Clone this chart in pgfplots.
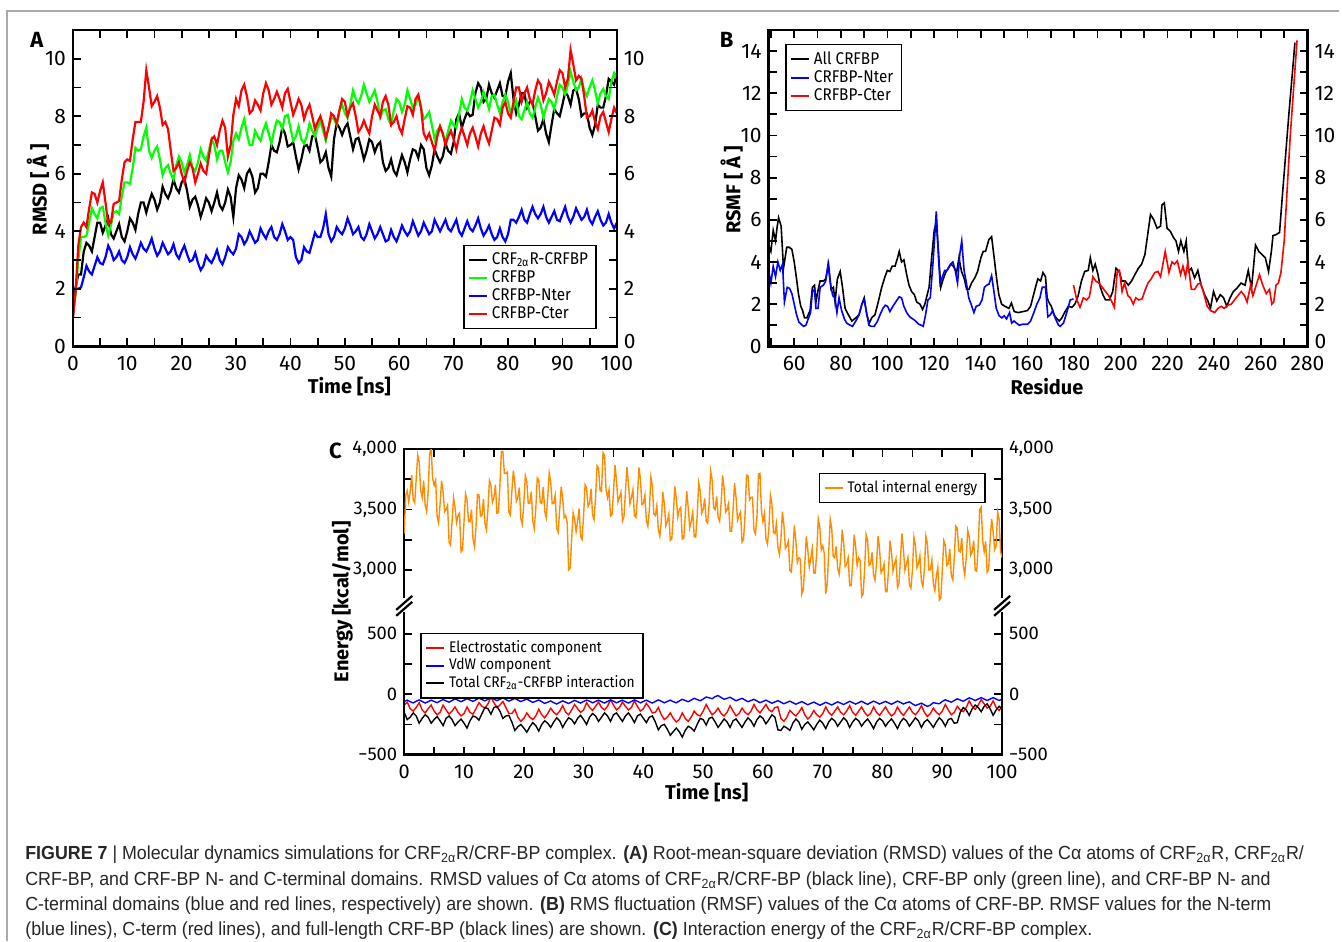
\documentclass[border=0pt]{standalone}
\usepackage{fontspec}
\setmainfont{Fira Sans}
\newfontfamily\legfont[FakeStretch=0.9]{Fira Sans}
\newfontfamily\capfont[FakeStretch=0.94]{Liberation Sans}
\usepackage{pgfplots}
\pgfplotsset{compat=1.18}
\usepackage{pgfplotstable}

\definecolor{pgreen}{RGB}{0,255,0}
\definecolor{pblue}{RGB}{0,0,255}
\definecolor{pred}{RGB}{255,0,0}
\definecolor{porange}{RGB}{255,140,0}
\definecolor{framegray}{RGB}{170,170,170}

% panel A: RMSD vs time (t, complex, CRFBP, Nter, Cter)
\pgfplotstableread{
t k g b r
0 1.0 1.2 1.5 1.0
0.5 2.05 1.8 2.0 1.9
1 2.5 3.0 2.0 3.5
1.5 2.5 3.8 2.05 4.15
2 3.3 3.8 2.4 4.3
2.5 3.6 3.85 2.8 4.15
3 3.5 4.3 2.6 4.8
3.5 3.3 4.8 2.5 5.35
4 3.8 4.6 2.8 5.3
4.5 4.3 4.45 3.1 5.0
5 4.3 4.8 2.9 5.4
5.5 3.95 4.85 2.85 5.7
6 4.2 4.3 3.1 5.0
6.5 4.45 3.85 3.5 4.25
7 3.9 4.2 3.3 4.3
7.5 3.75 4.65 3.0 4.95
8 4.0 4.7 3.1 5.0
8.5 4.25 4.6 3.3 5.05
9 3.8 5.2 3.0 5.8
9.5 3.65 5.7 2.9 6.4
10 4.0 5.7 3.1 6.5
10.5 4.45 5.65 3.45 6.45
11 4.3 6.2 3.2 7.2
11.5 4.05 6.9 3.05 7.8
12 4.6 6.8 3.3 7.8
12.5 5.0 6.85 3.6 7.8
13 5.0 7.3 3.4 8.5
13.5 4.65 7.6 3.3 9.6
14 5.0 6.8 3.5 9.0
14.5 5.3 6.55 3.75 8.35
15 5.1 6.8 3.4 8.5
15.5 4.75 6.95 3.15 8.7
16 5.0 6.5 3.3 8.3
16.5 5.55 5.95 3.6 7.7
17 5.3 6.2 3.4 7.8
17.5 5.15 6.3 3.2 7.55
18 5.4 6.0 3.3 6.8
18.5 5.8 5.8 3.55 6.1
19 5.5 6.3 3.2 6.2
19.5 5.35 6.6 3.05 6.4
20 5.7 6.4 3.3 6.0
20.5 5.85 6.05 3.5 5.7
21 5.4 6.3 3.2 6.1
21.5 4.85 6.65 2.95 6.4
22 5.1 6.2 3.0 6.2
22.5 5.2 6.1 3.25 5.7
23 4.9 6.4 2.9 6.0
23.5 4.5 6.85 2.65 6.35
24 4.8 6.6 2.8 6.1
24.5 5.15 6.45 3.15 6.0
25 5.0 6.8 3.0 6.6
25.5 4.7 7.2 2.9 7.2
26 5.0 7.0 3.1 7.3
26.5 5.35 6.5 3.35 7.0
27 4.9 6.8 3.0 7.5
27.5 4.75 6.8 2.85 7.85
28 5.0 6.4 3.1 7.6
28.5 5.45 6.05 3.45 6.6
29 5.2 6.4 3.3 7.0
29.5 4.5 7.15 3.2 8.05
30 5.5 7.4 3.4 8.6
30.5 5.95 7.2 3.9 8.35
31 5.8 7.6 3.8 8.9
31.5 5.5 7.9 3.55 9.1
32 6.0 7.4 3.7 8.7
32.5 6.15 7.0 4.0 8.1
33 5.9 7.0 3.8 8.2
33.5 5.35 7.5 3.6 8.55
34 5.5 7.3 3.7 8.4
34.5 6.0 7.15 4.1 8.2
35 6.0 7.5 3.9 8.8
35.5 5.9 7.75 3.75 9.15
36 6.4 7.4 4.0 8.9
36.5 7.0 7.05 4.15 8.4
37 6.8 7.5 3.8 8.6
37.5 6.75 7.85 3.7 8.85
38 7.1 7.8 3.9 8.6
38.5 7.6 7.55 4.25 8.3
39 7.4 8.0 4.0 8.8
39.5 6.95 8.05 3.7 8.95
40 7.0 7.6 3.8 8.5
40.5 7.1 7.15 3.7 8.05
41 6.6 7.3 3.1 8.3
41.5 6.15 7.65 2.9 8.6
42 6.5 7.2 3.0 8.4
42.5 6.95 7.05 3.45 7.9
43 7.0 7.3 3.3 8.2
43.5 6.8 7.75 3.25 8.4
44 7.3 7.5 3.6 8.0
44.5 7.35 7.3 3.95 7.55
45 6.9 7.6 3.8 7.8
45.5 6.4 7.85 3.8 8.0
46 6.5 7.5 4.1 7.7
46.5 6.75 7.15 4.6 7.25
47 6.2 7.6 3.9 7.6
47.5 5.9 7.95 3.65 8.1
48 7.2 7.9 3.8 8.0
48.5 7.75 7.7 4.15 7.75
49 7.6 8.2 4.0 8.2
49.5 7.35 8.4 3.9 8.6
50 7.6 8.1 4.1 8.5
50.5 7.75 7.95 4.45 8.0
51 7.3 8.4 4.2 8.3
51.5 6.85 8.9 3.9 8.45
52 7.2 8.6 4.0 8.0
52.5 7.25 8.45 4.15 7.45
53 6.9 8.7 3.8 7.6
53.5 6.5 9.1 3.7 7.85
54 6.8 8.8 3.9 7.6
54.5 7.2 8.5 4.25 7.4
55 7.1 8.7 4.0 8.0
55.5 6.75 8.9 3.75 8.4
56 7.0 8.5 3.9 8.2
56.5 7.1 7.95 4.15 8.0
57 6.4 8.2 3.9 8.5
57.5 6.1 8.25 3.65 8.7
58 6.2 7.9 3.7 8.4
58.5 6.5 7.7 4.05 7.7
59 6.1 8.2 3.8 7.8
59.5 5.95 8.6 3.65 8.0
60 6.3 8.5 3.9 7.6
60.5 6.65 8.15 4.2 7.4
61 6.4 8.4 4.0 7.9
61.5 6.05 8.9 3.85 8.35
62 6.5 8.6 4.0 8.3
62.5 6.85 8.3 4.35 8.05
63 6.8 8.4 4.1 8.6
63.5 6.55 8.7 3.85 8.75
64 7.0 8.3 4.0 8.3
64.5 6.85 7.9 4.3 7.4
65 6.2 8.0 4.1 7.2
65.5 5.95 8.15 3.9 7.4
66 6.3 7.7 4.0 7.1
66.5 6.85 7.2 4.4 6.8
67 6.6 7.5 4.2 7.3
67.5 6.4 7.65 4.0 7.65
68 6.6 7.4 4.2 7.4
68.5 7.05 7.1 4.4 7.0
69 6.8 7.5 4.1 7.3
69.5 6.7 7.85 4.0 7.5
70 7.1 7.7 4.2 7.2
70.5 7.9 7.6 4.4 6.85
71 8.1 8.1 4.0 7.3
71.5 7.6 8.6 3.85 7.6
72 7.9 8.3 4.1 7.3
72.5 8.15 8.2 4.35 7.0
73 8.0 8.5 4.1 7.4
73.5 8.05 8.9 4.0 7.6
74 8.8 8.6 4.2 7.3
74.5 9.15 8.3 4.45 6.95
75 9.0 8.5 4.1 7.4
75.5 8.5 8.85 3.85 7.65
76 8.6 8.6 4.0 7.3
76.5 9.1 8.25 4.2 7.05
77 8.8 8.7 3.9 7.5
77.5 8.65 8.75 3.7 7.95
78 8.9 8.4 3.8 7.9
78.5 9.15 8.1 4.1 7.7
79 8.7 8.5 3.8 8.3
79.5 8.7 8.75 3.65 8.5
80 9.2 8.5 3.9 8.1
80.5 9.5 8.1 4.4 7.95
81 8.6 8.3 4.4 8.5
81.5 8.1 8.55 4.3 9.0
82 8.4 8.0 4.5 9.0
82.5 8.8 7.9 4.75 8.5
83 8.8 8.2 4.4 8.8
83.5 8.3 8.5 4.3 9.0
84 8.5 8.1 4.6 8.6
84.5 8.5 7.95 4.85 8.4
85 8.0 8.3 4.6 8.9
85.5 7.5 8.65 4.45 9.25
86 7.6 8.4 4.6 9.1
86.5 7.9 7.95 4.85 8.55
87 7.4 8.3 4.5 8.8
87.5 7.1 8.6 4.3 9.2
88 7.7 8.5 4.5 9.0
88.5 8.25 8.25 4.7 8.75
89 8.1 8.7 4.4 9.2
89.5 8.0 9.1 4.35 9.6
90 8.4 9.0 4.6 9.5
90.5 8.85 8.75 4.85 9.0
91 8.7 9.1 4.5 9.3
91.5 8.4 9.55 4.3 10.3
92 8.9 9.2 4.5 9.8
92.5 8.95 8.9 4.8 9.25
93 8.6 9.0 4.6 9.4
93.5 8.0 9.3 4.4 9.3
94 8.1 8.9 4.5 8.7
94.5 8.1 8.7 4.75 7.95
95 7.6 9.0 4.4 8.0
95.5 7.35 9.25 4.25 8.2
96 7.7 8.9 4.5 7.8
96.5 8.4 8.45 4.7 7.55
97 8.3 8.8 4.4 8.0
97.5 8.3 8.95 4.2 8.15
98 8.7 8.7 4.3 7.8
98.5 9.3 8.6 4.6 7.45
99 9.2 9.2 4.3 7.9
99.5 9.1 9.5 4.1 8.3
100 9.5 9.3 4.3 8.1
}\tabA

% panel C lower part: interaction energies (t, electrostatic, vdW, total)
\pgfplotstableread{
t r b k
0 -90 -60 -150
0.5 -65 -49 -210
1 -120 -62 -190
1.5 -140 -72 -155
2 -110 -58 -180
2.5 -70 -47 -240
3 -130 -60 -200
3.5 -155 -73 -170
4 -120 -62 -190
4.5 -90 -49 -240
5 -140 -60 -210
5.5 -170 -70 -185
6 -150 -56 -220
6.5 -90 -44 -260
7 -130 -55 -200
7.5 -165 -66 -180
8 -140 -52 -210
8.5 -105 -39 -260
9 -150 -50 -230
9.5 -180 -62 -205
10 -160 -50 -240
10.5 -105 -37 -280
11 -150 -48 -220
11.5 -165 -59 -180
12 -120 -46 -190
12.5 -70 -33 -215
13 -100 -44 -160
13.5 -115 -55 -110
14 -80 -42 -120
14.5 -25 -29 -165
15 -70 -40 -110
15.5 -110 -53 -100
16 -90 -42 -140
16.5 -60 -31 -200
17 -110 -44 -180
17.5 -160 -57 -175
18 -160 -46 -230
18.5 -125 -35 -300
19 -190 -48 -270
19.5 -225 -61 -250
20 -200 -50 -280
20.5 -155 -40 -315
21 -190 -54 -270
21.5 -210 -68 -235
22 -180 -58 -260
22.5 -125 -48 -305
23 -170 -62 -250
23.5 -195 -76 -220
24 -160 -66 -240
24.5 -115 -56 -275
25 -150 -70 -230
25.5 -170 -81 -195
26 -140 -68 -220
26.5 -95 -55 -275
27 -150 -66 -230
27.5 -170 -77 -195
28 -130 -64 -210
28.5 -85 -51 -245
29 -120 -62 -200
29.5 -150 -73 -175
30 -130 -60 -210
30.5 -70 -48 -250
31 -110 -58 -190
31.5 -135 -71 -160
32 -100 -60 -180
32.5 -65 -49 -225
33 -110 -62 -190
33.5 -130 -73 -155
34 -100 -60 -180
34.5 -45 -47 -225
35 -90 -58 -170
35.5 -130 -71 -155
36 -110 -60 -190
36.5 -65 -49 -225
37 -100 -62 -180
37.5 -130 -73 -155
38 -110 -60 -190
38.5 -55 -47 -235
39 -100 -58 -180
39.5 -140 -71 -165
40 -120 -60 -200
40.5 -75 -49 -235
41 -110 -62 -190
41.5 -155 -73 -180
42 -150 -60 -230
42.5 -110 -47 -295
43 -170 -58 -260
43.5 -210 -71 -250
44 -190 -60 -290
44.5 -155 -49 -340
45 -200 -62 -310
45.5 -230 -71 -280
46 -210 -56 -310
46.5 -155 -42 -355
47 -200 -52 -300
47.5 -225 -62 -265
48 -190 -48 -280
48.5 -140 -34 -305
49 -170 -44 -250
49.5 -180 -54 -200
50 -140 -40 -210
50.5 -85 -23 -255
51 -130 -30 -200
51.5 -170 -37 -190
52 -150 -20 -230
52.5 -115 -11 -275
53 -160 -27 -240
53.5 -180 -42 -205
54 -150 -34 -230
54.5 -95 -25 -275
55 -140 -40 -220
55.5 -180 -54 -205
56 -160 -44 -240
56.5 -115 -34 -275
57 -150 -48 -230
57.5 -170 -62 -195
58 -140 -52 -220
58.5 -85 -42 -265
59 -130 -56 -210
59.5 -155 -70 -180
60 -120 -60 -200
60.5 -85 -49 -245
61 -130 -62 -210
61.5 -145 -75 -170
62 -110 -64 -190
62.5 -105 -53 -295
63 -200 -66 -300
63.5 -225 -79 -265
64 -190 -68 -280
64.5 -135 -57 -300
65 -160 -70 -240
65.5 -180 -83 -205
66 -150 -72 -230
66.5 -110 -61 -290
67 -170 -74 -250
67.5 -205 -87 -230
68 -180 -76 -260
68.5 -135 -65 -295
69 -170 -78 -250
69.5 -190 -91 -215
70 -160 -80 -240
70.5 -105 -67 -285
71 -150 -78 -230
71.5 -175 -89 -200
72 -140 -76 -220
72.5 -105 -63 -265
73 -150 -74 -230
73.5 -170 -85 -195
74 -140 -72 -220
74.5 -95 -59 -275
75 -150 -70 -230
75.5 -175 -82 -200
76 -140 -70 -220
76.5 -105 -58 -265
77 -150 -72 -230
77.5 -180 -84 -205
78 -160 -70 -240
78.5 -105 -57 -285
79 -150 -68 -230
79.5 -175 -81 -200
80 -140 -70 -220
80.5 -105 -59 -265
81 -150 -72 -230
81.5 -180 -83 -205
82 -160 -70 -240
82.5 -105 -57 -285
83 -150 -68 -230
83.5 -175 -81 -200
84 -140 -70 -220
84.5 -105 -63 -265
85 -150 -80 -230
85.5 -170 -94 -195
86 -140 -84 -220
86.5 -95 -74 -275
87 -150 -88 -230
87.5 -185 -101 -210
88 -160 -90 -240
88.5 -115 -70 -275
89 -150 -75 -230
89.5 -170 -79 -195
90 -140 -60 -220
90.5 -85 -46 -265
91 -130 -56 -210
91.5 -170 -66 -200
92 -150 -52 -240
92.5 -100 -38 -235
93 -130 -48 -150
93.5 -145 -58 -110
94 -110 -44 -130
94.5 -55 -30 -175
95 -100 -40 -120
95.5 -125 -52 -90
96 -90 -40 -110
96.5 -45 -28 -145
97 -80 -40 -100
97.5 -115 -52 -80
98 -100 -40 -120
98.5 -55 -28 -175
99 -110 -40 -130
99.5 -135 -52 -100
100 -100 -40 -120
}\tabC

% panel C upper part: total internal energy (kcal/mol)
\pgfplotstableread{
t o
0 3300
0.25 3618
0.5 3655
0.75 3562
1 3650
1.25 3785
1.5 3580
1.75 3555
2 3750
2.25 3950
2.5 3895
2.75 3658
3 3600
3.25 3738
3.5 3535
3.75 3482
4 3650
4.25 3965
4.5 4000
4.75 3760
5 3700
5.25 3742
5.5 3445
5.75 3388
6 3550
6.25 3738
6.5 3645
6.75 3482
7 3500
7.25 3535
7.5 3230
7.75 3205
8 3400
8.25 3598
8.5 3515
8.75 3392
9 3450
9.25 3470
9.5 3150
9.75 3165
10 3400
10.25 3630
10.5 3580
10.75 3400
11 3400
11.25 3498
11.5 3255
11.75 3192
12 3350
12.25 3625
12.5 3620
12.75 3445
13 3450
13.25 3588
13.5 3385
13.75 3332
14 3500
14.25 3740
14.5 3700
14.75 3560
15 3600
15.25 3705
15.5 3470
15.75 3475
16 3700
16.25 3980
16.5 3980
16.75 3800
17 3800
17.25 3810
17.5 3480
17.75 3455
18 3650
18.25 3822
18.5 3715
18.75 3568
19 3600
19.25 3682
19.5 3425
19.75 3378
20 3550
20.25 3780
20.5 3730
20.75 3550
21 3550
21.25 3648
21.5 3405
21.75 3342
22 3500
22.25 3762
22.5 3745
22.75 3558
23 3550
23.25 3688
23.5 3485
23.75 3432
24 3600
24.25 3802
24.5 3725
24.75 3548
25 3550
25.25 3618
25.5 3345
25.75 3312
26 3500
26.25 3688
26.5 3595
26.75 3432
27 3450
27.25 3395
27.5 3000
27.75 3015
28 3250
28.25 3472
28.5 3415
28.75 3318
29 3400
29.25 3508
29.5 3275
29.75 3252
30 3450
30.25 3705
30.5 3680
30.75 3525
31 3550
31.25 3672
31.5 3455
31.75 3418
32 3600
32.25 3862
32.5 3845
32.75 3658
33 3650
33.25 3970
33.5 3950
33.75 3665
34 3600
34.25 3662
34.5 3445
34.75 3458
35 3650
35.25 3868
35.5 3745
35.75 3562
36 3600
36.25 3642
36.5 3405
36.75 3438
37 3650
37.25 3852
37.5 3715
37.75 3548
38 3600
38.25 3665
38.5 3450
38.75 3435
39 3600
39.25 3848
39.5 3755
39.75 3542
40 3550
40.25 3618
40.5 3405
40.75 3362
41 3500
41.25 3768
41.5 3695
41.75 3462
42 3450
42.25 3532
42.5 3335
42.75 3278
43 3400
43.25 3645
43.5 3550
43.75 3365
44 3400
44.25 3462
44.5 3245
44.75 3258
45 3450
45.25 3692
45.5 3595
45.75 3438
46 3500
46.25 3518
46.5 3255
46.75 3262
47 3450
47.25 3652
47.5 3515
47.75 3348
48 3400
48.25 3478
48.5 3275
48.75 3272
49 3450
49.25 3722
49.5 3655
49.75 3468
50 3500
50.25 3592
50.5 3405
50.75 3388
51 3550
51.25 3818
51.5 3745
51.75 3512
52 3500
52.25 3608
52.5 3435
52.75 3402
53 3550
53.25 3782
53.5 3675
53.75 3478
54 3500
54.25 3550
54.5 3320
54.75 3320
55 3500
55.25 3718
55.5 3595
55.75 3412
56 3450
56.25 3480
56.5 3230
56.75 3250
57 3450
57.25 3785
57.5 3780
57.75 3580
58 3600
58.25 3602
58.5 3325
58.75 3298
59 3450
59.25 3795
59.5 3800
59.75 3490
60 3400
60.25 3468
60.5 3255
60.75 3212
61 3350
61.25 3618
61.5 3545
61.75 3312
62 3300
62.25 3382
62.5 3185
62.75 3128
63 3250
63.25 3482
63.5 3375
63.75 3178
64 3200
64.25 3238
64.5 2995
64.75 2982
65 3150
65.25 3368
65.5 3245
65.75 3062
66 3100
66.25 3090
66.5 2800
66.75 2835
67 3050
67.25 3278
67.5 3165
67.75 3022
68 3100
68.25 3178
68.5 2975
68.75 2972
69 3150
69.25 3422
69.5 3355
69.75 3168
70 3200
70.25 3140
70.5 2800
70.75 2885
71 3150
71.25 3418
71.5 3345
71.75 3112
72 3100
72.25 3195
72.5 3010
72.75 2965
73 3100
73.25 3332
73.5 3225
73.75 3028
74 3050
74.25 3100
74.5 2870
74.75 2870
75 3050
75.25 3292
75.5 3195
75.75 3038
76 3100
76.25 3080
76.5 2780
76.75 2800
77 3000
77.25 3292
77.5 3245
77.75 3038
78 3050
78.25 3145
78.5 2960
78.75 2915
79 3050
79.25 3282
79.5 3175
79.75 2978
80 3000
80.25 3050
80.5 2820
80.75 2820
81 3000
81.25 3242
81.5 3145
81.75 2988
82 3050
82.25 3092
82.5 2855
82.75 2888
83 3100
83.25 3302
83.5 3165
83.75 2998
84 3050
84.25 3102
84.5 2875
84.75 2848
85 3000
85.25 3272
85.5 3205
85.75 3018
86 3050
86.25 3118
86.5 2905
86.75 2862
87 3000
87.25 3280
87.5 3220
87.75 3000
88 3000
88.25 3082
88.5 2885
88.75 2828
89 2950
89.25 3020
89.5 2750
89.75 2765
90 3000
90.25 3242
90.5 3205
90.75 3038
91 3050
91.25 3172
91.5 2955
91.75 2918
92 3100
92.25 3362
92.5 3345
92.75 3158
93 3150
93.25 3262
93.5 3035
93.75 2958
94 3100
94.25 3328
94.5 3275
94.75 3122
95 3150
95.25 3242
95.5 2995
95.75 2988
96 3200
96.25 3500
96.5 3520
96.75 3245
97 3150
97.25 3235
97.5 2980
97.75 3005
98 3250
98.25 3422
98.5 3315
98.75 3168
99 3200
99.25 3480
99.5 3420
99.75 3150
100 3100
}\tabO

\pgfplotsset{
  panel/.style={
    scale only axis, anchor=south west, clip=true,
    axis line style={line width=1.2pt},
    tick style={black, line width=0.9pt},
    major tick length=4pt, minor tick length=4pt,
    tick align=inside,
    tick label style={font=\fontsize{10.5}{12}\selectfont},
    xticklabel style={yshift=-1.5pt},
    /pgf/number format/assume math mode=true,
    legend cell align=left,
    legend style={draw=black, line width=0.75pt, fill=white,
      font=\legfont\fontsize{8.5}{8.5}\selectfont, inner xsep=2pt, inner ysep=1.5pt, row sep=-2.4pt},
    legend image code/.code={\draw[#1, line width=1pt] (0pt,0pt) -- (9pt,0pt);},
  },
  rightside/.style={yticklabel pos=right, xticklabels={}},
  % the right-hand "0" sits just above the last x tick label; lift it a little
  zeroright/.style={extra y ticks={0}, extra y tick style={yticklabel style={yshift=2.5pt}}},
  panelC/.style={panel, at={(202.5pt,-378pt)}, width=299.5pt, height=153pt,
    xmin=0, xmax=100, ymin=-500, ymax=2030,
    xticklabel style={font=\fontsize{10}{12}\selectfont},
    yticklabel style={font=\fontsize{9.2}{11}\selectfont},
    xtick={0,10,...,100}, minor xtick={5,15,...,95},
    ytick={-500,-250,0,250,500,1030,1280,1530,1780,2030},
    yticklabels={−500,,0,,500,{3,000},,{3,500},,{4,000}},
    legend style={font=\legfont\fontsize{7.7}{7.7}\selectfont, row sep=-2.5pt}},
}

\begin{document}
\begin{tikzpicture}
\begin{scope}[x=0.5pt, y=-0.5pt]
  \path[use as bounding box] (0,0) rectangle (1342,943);
  \draw[framegray, line width=0.8pt] (7,943) -- (7,11) -- (1342,11);
\end{scope}

% ---------- A ----------
\begin{axis}[panel, at={(36.5pt,-173.5pt)}, width=272.5pt, height=158.5pt,
  xmin=0, xmax=100, ymin=0, ymax=11,
  xtick={0,10,...,100}, minor xtick={5,15,...,95},
  ytick={0,2,...,10}, minor ytick={1,3,...,11},
  legend style={at={(0.963,0.054)}, anchor=south east}]
\addplot[black, line width=1.1pt] table[x=t, y=k] {\tabA};
\addplot[pgreen, line width=1.1pt] table[x=t, y=g] {\tabA};
\addplot[pblue, line width=1.1pt] table[x=t, y=b] {\tabA};
\addplot[pred, line width=1.1pt] table[x=t, y=r] {\tabA};
\legend{CRF\textsubscript{2α}R-CRFBP, CRFBP, CRFBP-Nter, CRFBP-Cter}
\end{axis}
\begin{axis}[panel, rightside, zeroright, at={(36.5pt,-173.5pt)}, width=272.5pt, height=158.5pt,
  xmin=0, xmax=100, ymin=0, ymax=11,
  xtick={0,10,...,100}, minor xtick={5,15,...,95},
  ytick={2,4,...,10}, minor ytick={1,3,...,11}]
\end{axis}

% ---------- B ----------
\begin{axis}[panel, at={(385pt,-173.5pt)}, width=270pt, height=158.5pt,
  xmin=49, xmax=280, ymin=0, ymax=15,
  xtick={60,80,...,280}, minor xtick={50,70,...,270},
  ytick={0,2,...,14}, minor ytick={1,3,...,15},
  legend style={at={(0.031,0.956)}, anchor=north west}]
\addplot[black, line width=0.8pt] coordinates {
(49,4.8)(50,4.5)(51,5.5)(52,5.0)(52.6,5.6)(53.3,6.1)(54.4,5.7)(55.4,3.7)(56.8,4.7)(57.8,4.7)
(59,4.6)(60,4.0)(61,3.2)(61.8,2.5)(62.8,1.9)(63.6,1.7)(64.4,1.35)(65.4,1.35)(66.8,1.7)(67.8,2.8)
(68.7,2.9)(69.3,2.1)(70.1,2.6)(71.1,3.1)(72.5,3.1)(73.5,3.2)(74.7,3.9)(75.8,2.7)(76.8,2.8)(77.5,2.1)
(78.5,3.2)(79.7,3.55)(80.7,2.8)(81.8,1.8)(83.2,1.5)(84.7,1.2)(86.4,1.35)(87.8,1.5)(89,2.0)(90,2.3)
(91.1,1.5)(92.2,1.1)(93.2,1.35)(94.6,1.5)(96,2.1)(97.5,2.8)(98.9,3.3)(99.9,3.6)(101,3.55)(102,3.8)
(103.2,3.8)(104.3,4.2)(105,4.5)(106,4.0)(107,4.1)(108.2,3.4)(109.2,2.9)(110.3,2.6)(111.5,2.45)(112.5,2.1)
(113.9,2.0)(115,1.75)(116,2.0)(117,2.45)(117.8,2.8)(118.9,4.2)(120,5.5)(120.9,5.9)(121.8,4.5)(122.8,2.8)
(123.9,3.2)(124.9,3.5)(126,3.7)(127.2,3.9)(128.2,3.8)(129.6,3.5)(130.6,4.2)(131.7,3.55)(132.9,3.2)(133.9,2.7)
(134.9,2.7)(136,3.0)(137.4,3.25)(138.6,3.55)(140,4.2)(141,4.5)(142,4.5)(143.4,5.05)(144.6,5.2)(145.7,4.2)
(146.7,3.25)(147.7,2.45)(148.9,2.0)(150.3,1.9)(152,1.8)(153.1,2.05)(154.3,1.65)(156,1.6)(158.1,1.65)(160,1.7)
(161.3,1.9)(163.4,2.8)(164.4,3.2)(165.6,3.1)(166.6,3.5)(167.7,3.3)(168.4,2.3)(169.1,2.1)(170.2,1.9)(171.3,1.5)
(172.3,1.35)(173.6,1.2)(174.7,1.35)(176.1,1.65)(177.5,1.9)(179,1.85)(180.3,2.0)(181.7,2.4)(183.1,3.1)(184.5,3.55)
(186,3.6)(186.9,4.2)(188,3.6)(189,3.9)(190.2,3.4)(191.2,2.8)(192.3,2.45)(193.4,2.2)(195.1,2.2)(196.5,2.6)
(197.9,3.7)(199.3,3.55)(200.4,3.1)(201.8,3.1)(203.2,2.9)(204.6,3.1)(206,3.4)(207.5,3.7)(208.9,3.9)(210.3,4.35)
(211.3,5.15)(212.7,6.25)(214.1,6.0)(215.5,5.6)(217,5.7)(217.6,6.7)(218.6,6.8)(219.8,5.6)(221.2,5.45)(222.6,5.15)
(223.6,5.0)(224.7,4.5)(225.7,5.0)(227,4.5)(228,5.0)(229,3.55)(230.2,3.7)(231.6,3.25)(233,3.6)(234.4,2.9)
(235.9,2.45)(237.3,2.15)(238.4,1.8)(239.7,2.6)(241.1,2.15)(242.6,2.45)(244,2.3)(245.4,1.9)(246.8,2.3)(248.2,2.6)
(249.7,2.75)(251.5,3.0)(253.2,2.9)(254.6,3.6)(256,2.75)(257.7,4.8)(259.1,4.5)(260.5,4.35)(261.9,4.2)(263.3,3.55)
(264.5,4.5)(265.2,5.25)(266.6,5.3)(268,5.4)(269.4,7.4)(272,11.0)(274.6,14.4)
};
\addplot[pblue, line width=0.8pt] coordinates {
(49,3.6)(50,3.0)(51,3.8)(52,3.3)(53,4.0)(54,3.6)(55,3.9)(55.8,2.1)(57,2.8)(58,2.75)
(59,2.5)(60,2.0)(61,1.5)(62,1.15)(63,1.05)(64,0.95)(65,1.0)(66,1.3)(67,1.6)(67.8,2.6)
(68.7,2.7)(69.3,1.8)(70.2,1.8)(71.1,2.8)(72.5,2.9)(73.5,3.1)(74.5,3.9)(75.5,3.0)(76.5,2.4)(77.5,2.3)
(78.3,1.6)(79.2,2.3)(80.3,1.7)(81.5,1.3)(82.5,1.1)(84,1.0)(85,0.95)(86.4,1.2)(87.8,1.5)(89,2.0)
(90,2.2)(91,1.6)(92,1.0)(93,0.95)(94.3,0.95)(95.5,1.15)(96.8,1.5)(98,1.8)(99,1.95)(100,1.9)
(101,1.65)(102.3,1.9)(103.5,2.1)(105,2.35)(106,2.3)(107,1.9)(108.2,1.6)(109.5,1.4)(110.8,1.3)(112,1.2)
(113.3,1.05)(114.5,1.0)(115.3,0.95)(116.3,1.5)(117.3,2.2)(118.3,2.3)(119.5,4.0)(120.9,6.4)(121.8,4.3)(122.5,3.0)
(123.5,3.3)(124.5,3.6)(125.5,3.6)(127,3.9)(128,4.0)(129,3.6)(130,3.0)(131,4.4)(131.8,5.0)(132.8,3.6)
(133.8,3.0)(134.8,2.3)(135.8,2.0)(137,1.6)(138,1.9)(139.3,1.95)(140.5,2.2)(141.5,2.8)(142.5,2.9)(143.5,2.95)
(144.6,3.35)(145.6,2.6)(146.6,1.8)(147.8,1.45)(149,1.35)(150,1.45)(151,1.3)(152.3,1.6)(153.2,1.1)(154.2,1.2)
(155.3,1.1)(156.5,1.0)(158,1.05)(160,1.05)(161.3,1.2)(162.7,1.6)(164,2.0)(165.3,2.3)(166.3,2.8)(167.7,2.8)
(168.7,1.4)(169.8,1.5)(170.8,1.7)(172,1.3)(173.3,1.0)(174,0.95)(175.4,1.1)(176.8,1.6)(178.3,2.2)(179.7,2.25)
};
\addplot[pred, line width=0.8pt] coordinates {
(179.7,2.9)(181.1,2.2)(182.5,1.85)(183.9,2.3)(185.3,2.2)(186.5,2.35)(188,3.3)(189.2,3.1)(190.6,3.0)(192,2.8)
(193.4,2.6)(194.8,2.4)(196.2,2.1)(197.2,1.85)(198.4,3.5)(199.4,3.6)(200.5,2.6)(201.6,3.0)(203,2.4)(204.1,2.3)
(205.3,2.0)(206.4,2.3)(207.7,2.2)(209.1,2.25)(210.5,2.7)(211.6,3.0)(213,3.2)(214.5,3.5)(215.9,3.55)(217,3.3)
(219,4.5)(220.6,3.5)(221.9,4.0)(223,3.9)(224.2,4.05)(225.6,3.4)(226.6,3.8)(227.7,3.3)(228.7,4.0)(230.2,2.7)
(231.6,2.7)(233,2.95)(234.2,3.0)(235.3,2.6)(237,1.9)(238.4,1.7)(240.2,1.6)(241.6,1.8)(243,1.9)(244.2,1.8)
(245.9,1.95)(247.3,2.0)(249.4,2.3)(251.6,2.6)(253,2.4)(254.1,2.1)(255.6,2.9)(256.6,2.4)(258,2.9)(259.4,3.4)
(260.8,2.9)(262.3,2.5)(263.7,2.7)(264.7,2.0)(265.5,2.1)(266.5,2.9)(267.5,3.0)(268.6,3.5)(270,5.0)(272.6,10.0)
(275.5,14.5)
};
\legend{All CRFBP, CRFBP-Nter, CRFBP-Cter}
\end{axis}
\begin{axis}[panel, rightside, zeroright, at={(385pt,-173.5pt)}, width=270pt, height=158.5pt,
  xmin=49, xmax=280, ymin=0, ymax=15,
  xtick={60,80,...,280}, minor xtick={50,70,...,270},
  ytick={2,4,...,14}, minor ytick={1,3,...,15}]
\end{axis}

% ---------- C (broken y axis: upper part drawn shifted down by 1970) ----------
\begin{axis}[panelC, legend style={at={(0.027,0.399)}, anchor=north west}]
\addplot[pred, line width=0.7pt] table[x=t, y=r] {\tabC};
\addplot[pblue, line width=0.7pt] table[x=t, y=b] {\tabC};
\addplot[black, line width=0.7pt] table[x=t, y=k] {\tabC};
\legend{Electrostatic component, VdW component, Total CRF\textsubscript{2α}-CRFBP interaction}
\end{axis}
\begin{axis}[panelC, rightside, legend style={at={(0.973,0.922)}, anchor=north east}]
\addplot[porange, line width=0.7pt] table[x=t, y expr=\thisrow{o}-1970] {\tabO};
\legend{Total internal energy}
\end{axis}

\begin{scope}[x=0.5pt, y=-0.5pt]
  % axis break marks
  \fill[white] (398,599) rectangle (412,613);
  \fill[white] (997,599) rectangle (1011,613);
  \foreach \xx in {405,1004} {
    \draw[line width=1.1pt] (\xx-8,611) -- (\xx+8,597);
    \draw[line width=1.1pt] (\xx-8,617) -- (\xx+8,603);
  }
  % panel letters and axis titles
  \node[font=\bfseries\fontsize{11}{12}\selectfont] at (37,40) {A};
  \node[font=\bfseries\fontsize{11}{12}\selectfont] at (728,40) {B};
  \node[font=\bfseries\fontsize{11}{12}\selectfont] at (336,452) {C};
  \node[rotate=90, font=\bfseries\fontsize{10}{12}\selectfont] at (38,190) {RMSD [ Å ]};
  \node[font=\bfseries\fontsize{10}{12}\selectfont] at (350,387) {Time [ns]};
  \node[rotate=90, font=\bfseries\fontsize{10}{12}\selectfont] at (733,190) {RSMF [ Å ]};
  \node[font=\bfseries\fontsize{10}{12}\selectfont] at (1049,387) {Residue};
  \node[rotate=90, font=\bfseries\fontsize{10}{12}\selectfont] at (343,603) {Energy [kcal/mol]};
  \node[font=\bfseries\fontsize{10}{12}\selectfont] at (708,794) {Time [ns]};
  % caption
  \node[anchor=north west, inner sep=0pt, align=left, text=black!85,
        font=\capfont\fontsize{9.5}{12.75}\selectfont] at (25,847) {%
\textbf{FIGURE 7} | Molecular dynamics simulations for CRF\textsubscript{2α}R/CRF-BP complex. \textbf{(A)} Root-mean-square deviation (RMSD) values of the Cα atoms of CRF\textsubscript{2α}R, CRF\textsubscript{2α}R/\\
CRF-BP, and CRF-BP N- and C-terminal domains. RMSD values of Cα atoms of CRF\textsubscript{2α}R/CRF-BP (black line), CRF-BP only (green line), and CRF-BP N- and\\
C-terminal domains (blue and red lines, respectively) are shown. \textbf{(B)} RMS fluctuation (RMSF) values of the Cα atoms of CRF-BP. RMSF values for the N-term\\
(blue lines), C-term (red lines), and full-length CRF-BP (black lines) are shown. \textbf{(C)} Interaction energy of the CRF\textsubscript{2α}R/CRF-BP complex.};
\end{scope}
\end{tikzpicture}
\end{document}
